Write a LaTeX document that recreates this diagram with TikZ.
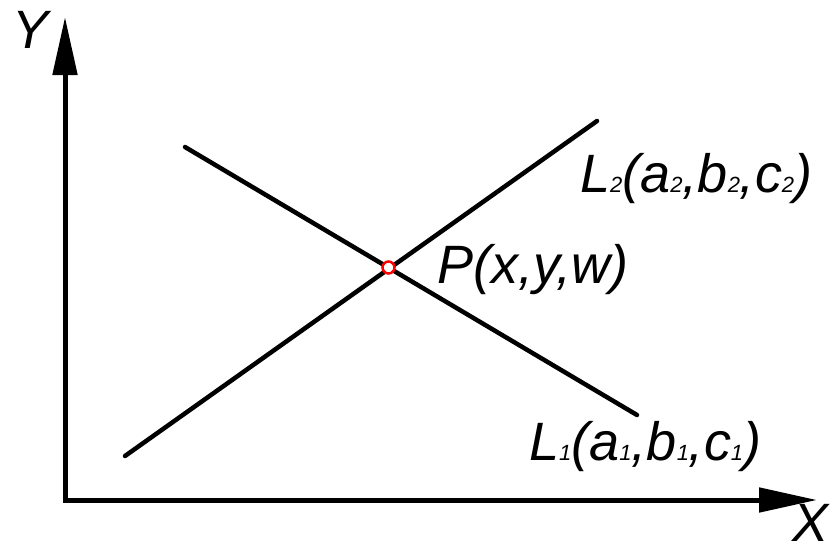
\documentclass[tikz,border=0pt]{standalone}
\usepackage{fontspec}
\setmainfont{Liberation Sans}
\usetikzlibrary{arrows.meta}
\newcommand\lsub[1]{{\fontsize{22}{22}\selectfont #1}}
\tikzset{
  axis/.style={line width=5pt,-{Triangle[length=58pt,width=24pt]}},
  lineL/.style={line width=4.5pt, line cap=round},
  lbl/.style={font=\fontsize{54}{60}\selectfont\itshape, inner sep=0pt, anchor=base west},
}
\begin{document}
\begin{tikzpicture}[x=1pt,y=-1pt]
\useasboundingbox (0,0) rectangle (839,555);
\coordinate (O) at (65,500);
\coordinate (Ytip) at (65,17);
\coordinate (Xtip) at (817,500);
\draw[axis] ([yshift=-2.5pt]O) -- (Ytip);
\draw[axis] ([xshift=-2.5pt]O) -- (Xtip);
\coordinate (A2) at (125,456);
\coordinate (B2) at (597,121);
\coordinate (A1) at (185,147);
\coordinate (B1) at (637,415);
\draw[lineL] (A2) -- (B2);
\draw[lineL] (A1) -- (B1);
\node[circle, draw=red, fill=white, line width=2.5pt, minimum size=12pt, inner sep=0pt] (P) at (388.5,267.5) {};
\node[lbl] (Yl) at (12,48) {Y};
\node[lbl] (Xl) at (792,541) {X};
\node[lbl] (Pl) at (437,283) {P(x,y,w)};
\node[lbl] (L2l) at (580,192) {L\lsub{2}(a\lsub{2},b\lsub{2},c\lsub{2})};
\node[lbl] (L1l) at (529,460) {L\lsub{1}(a\lsub{1},b\lsub{1},c\lsub{1})};
\end{tikzpicture}
\end{document}
